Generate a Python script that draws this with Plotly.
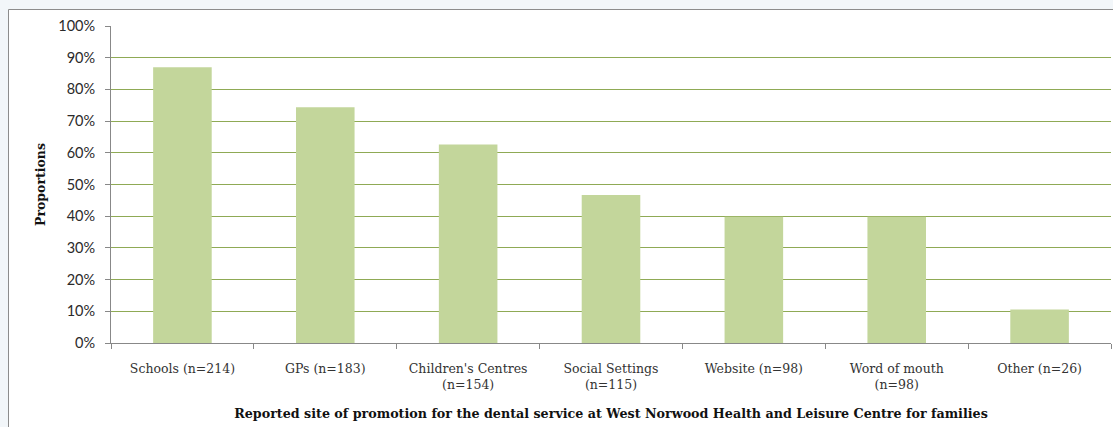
import plotly.graph_objects as go

categories = ["Schools (n=214)", "GPs (n=183)", "Children's Centres<br>(n=154)",
              "Social Settings<br>(n=115)", "Website (n=98)", "Word of mouth<br>(n=98)",
              "Other (n=26)"]
proportions = [0.870, 0.744, 0.626, 0.467, 0.398, 0.398, 0.106]
y_ticks = [0, 0.1, 0.2, 0.3, 0.4, 0.5, 0.6, 0.7, 0.8, 0.9, 1.0]
y_tick_labels = ["0%", "10%", "20%", "30%", "40%", "50%", "60%", "70%", "80%", "90%", "100%"]

fig = go.Figure(go.Bar(x=categories, y=proportions, marker_color="#c3d69b",
                       marker_line_width=0))

W, H = 1113, 427
L, R, T, B = 111, 2, 26, 84
pw, ph = W - L - R, H - T - B

def px_x(p):
    return (p - L) / pw

def px_y(p):
    return (H - B - p) / ph

fig.add_shape(type="rect", xref="paper", yref="paper",
              x0=px_x(8.5), x1=px_x(1130), y0=px_y(9.5), y1=px_y(460),
              fillcolor="white", line=dict(color="#8c8c8c", width=1), layer="below")

fig.update_layout(
    width=W, height=H,
    margin=dict(l=L, r=R, t=T, b=B),
    paper_bgcolor="#f2f6f9",
    plot_bgcolor="white",
    bargap=0.59,
    showlegend=False,
    xaxis=dict(
        tickson="boundaries", ticks="outside", ticklen=5, tickcolor="#888888",
        showline=True, linecolor="#888888", linewidth=1, showgrid=False,
        ticklabelstandoff=14,
        tickfont=dict(family="DejaVu Serif", size=12.5, color="#333333"),
        title=dict(text="<b>Reported site of promotion for the dental service at West Norwood Health and Leisure Centre for families</b>",
                   font=dict(family="DejaVu Serif", size=12.7, color="#111111"), standoff=17),
    ),
    yaxis=dict(
        range=[0, 1.0], tickvals=y_ticks, ticktext=y_tick_labels,
        ticks="outside", ticklen=5, tickcolor="#888888",
        showline=True, linecolor="#888888", linewidth=1,
        showgrid=True, gridcolor="#8faa55", gridwidth=1,
        ticklabelstandoff=7,
        tickfont=dict(family="Lato", size=14.5, color="#2a2a2a"),
        title=dict(text="<b>Proportions</b>", font=dict(family="DejaVu Serif", size=12.5, color="#111111"),
                   standoff=9),
        zeroline=False,
    ),
)

fig.write_html("out.html", config={"displayModeBar": False},
               post_script="document.body.style.margin='0px';document.body.style.background='#f2f6f9';document.body.style.overflow='hidden';")
